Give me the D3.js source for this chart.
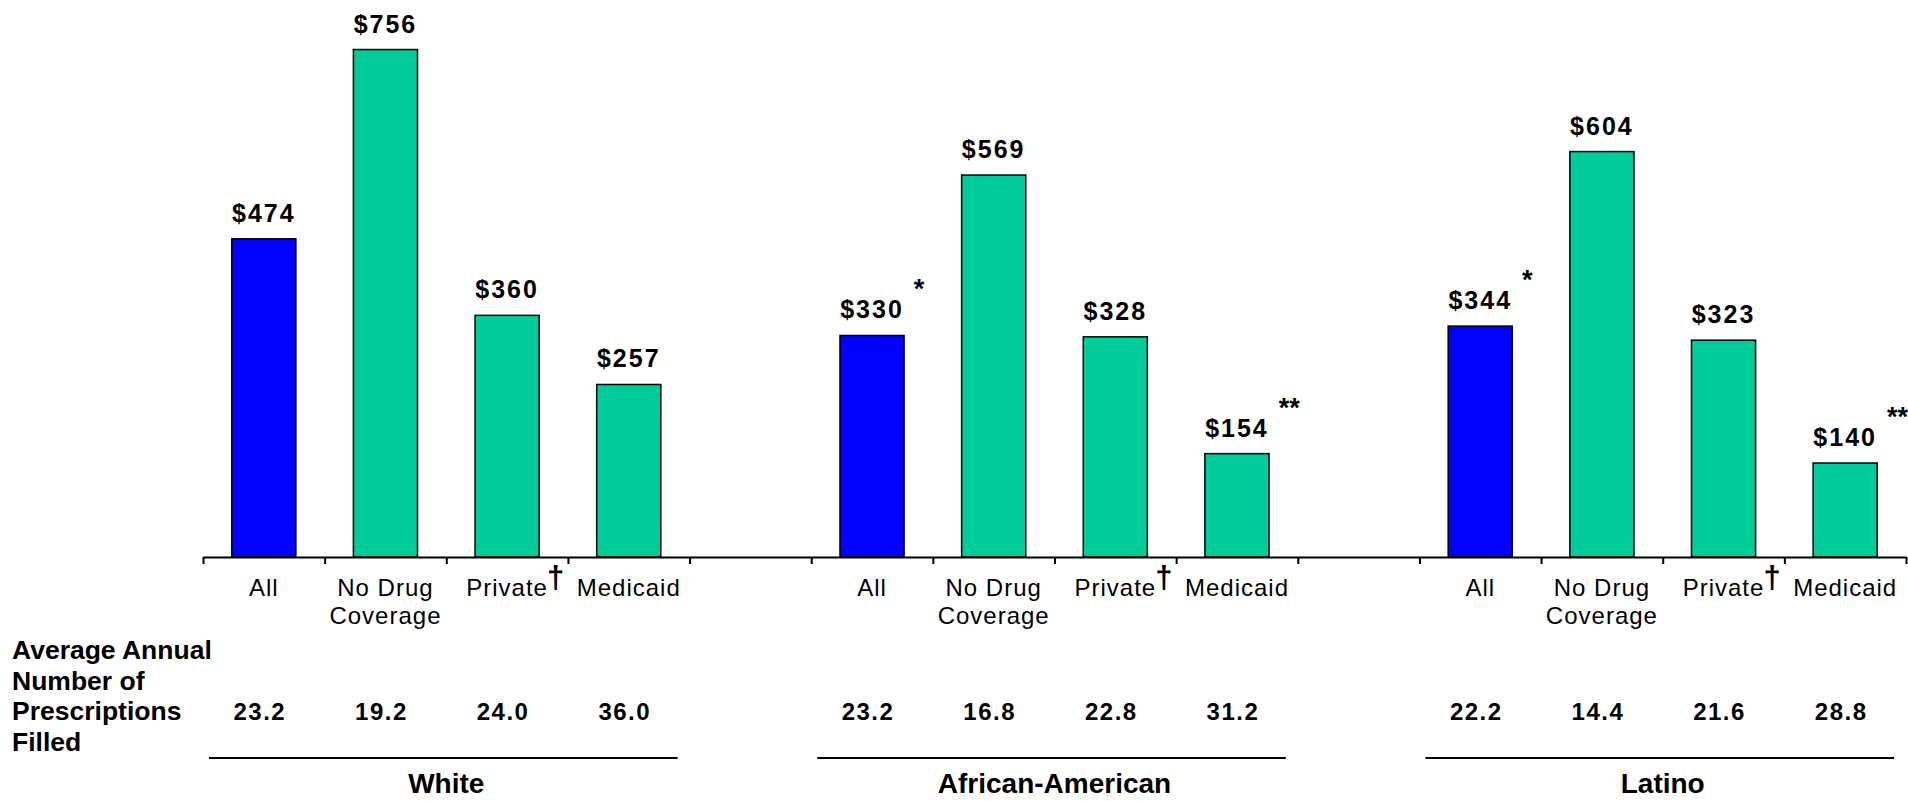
<!DOCTYPE html>
<html>
<head>
<meta charset="utf-8">
<script src="https://cdn.jsdelivr.net/npm/d3@7"></script>
<style>
  html, body { margin: 0; padding: 0; background: #fff; }
  svg { display: block; font-family: "Liberation Sans", Arial, sans-serif; }
</style>
</head>
<body>
<svg id="chart" width="1908" height="801"></svg>
<script>
// ---- data ----
const groups = ["White", "African-American", "Latino"];
const categories = ["All", "No Drug Coverage", "Private", "Medicaid"];
const categoryLines = [["All"], ["No Drug", "Coverage"], ["Private"], ["Medicaid"]];
const categoryNotes = ["", "", "\u2020", ""];
const whiteSpend = [474, 756, 360, 257];
const africanAmericanSpend = [330, 569, 328, 154];
const latinoSpend = [344, 604, 323, 140];
const whiteRx = [23.2, 19.2, 24.0, 36.0];
const africanAmericanRx = [23.2, 16.8, 22.8, 31.2];
const latinoRx = [22.2, 14.4, 21.6, 28.8];
const whiteMarks = ["", "", "", ""];
const africanAmericanMarks = ["*", "", "", "**"];
const latinoMarks = ["*", "", "", "**"];
const rowLabelLines = ["Average Annual", "Number of", "Prescriptions", "Filled"];
const yMax = 800;

const spendByGroup = [whiteSpend, africanAmericanSpend, latinoSpend];
const rxByGroup = [whiteRx, africanAmericanRx, latinoRx];
const marksByGroup = [whiteMarks, africanAmericanMarks, latinoMarks];

// build slot list: 4 categories per group, with one empty slot between groups
const slots = [];
const records = [];
groups.forEach((g, gi) => {
  categories.forEach((c, ci) => {
    const key = gi + "-" + ci;
    slots.push(key);
    records.push({ key, gi, ci, group: g, category: c,
      value: spendByGroup[gi][ci], rx: rxByGroup[gi][ci], mark: marksByGroup[gi][ci] });
  });
  if (gi < groups.length - 1) slots.push("gap" + gi);
});

// ---- layout ----
const svg = d3.select("#chart");
const baseY = 557;
const x = d3.scaleBand().domain(slots).range([203, 1906]).paddingInner(0).paddingOuter(0);
const y = d3.scaleLinear().domain([0, yMax]).range([baseY, 20]);
const barW = x.bandwidth() * 0.527;
const cx = d => x(d.key) + x.bandwidth() / 2;
const colorBlue = "#0000FF", colorTeal = "#00CC99";

// bars
svg.append("g").selectAll("rect").data(records).join("rect")
  .attr("x", d => cx(d) - barW / 2)
  .attr("y", d => y(d.value))
  .attr("width", barW)
  .attr("height", d => baseY - y(d.value))
  .attr("fill", d => d.ci === 0 ? colorBlue : colorTeal)
  .attr("stroke", "#000")
  .attr("stroke-width", 1.5);

// axis with ticks at slot boundaries
const bx = d3.scaleLinear().domain([0, slots.length]).range(x.range());
const axis = svg.append("g").attr("transform", `translate(0,${baseY})`)
  .call(d3.axisBottom(bx).ticks(slots.length).tickFormat("").tickSizeInner(7).tickSizeOuter(0));
axis.select(".domain").attr("stroke", "#000").attr("stroke-width", 2);
axis.selectAll(".tick line").attr("stroke", "#000").attr("stroke-width", 2);

// value labels
const valueLabels = svg.append("g").selectAll("text").data(records).join("text")
  .attr("x", d => cx(d))
  .attr("y", d => y(d.value) - 17)
  .attr("text-anchor", "middle")
  .attr("font-size", 25)
  .attr("font-weight", "bold")
  .attr("letter-spacing", 2)
  .attr("fill", "#000")
  .text(d => "$" + d.value);

// significance marks
valueLabels.each(function (d) {
  if (!d.mark) return;
  const w = this.getComputedTextLength();
  svg.append("text")
    .attr("x", cx(d) + w / 2 + 10)
    .attr("y", y(d.value) - 17 - 20)
    .attr("font-size", 27)
    .attr("font-weight", "bold")
    .attr("fill", "#000")
    .text(d.mark);
});

// category labels
const catG = svg.append("g");
records.forEach(d => {
  const lines = categoryLines[d.ci];
  const t = catG.append("text")
    .attr("text-anchor", "middle")
    .attr("font-size", 24)
    .attr("letter-spacing", 1)
    .attr("fill", "#000");
  lines.forEach((ln, i) => {
    t.append("tspan").attr("x", cx(d)).attr("y", 596 + i * 28).text(ln);
  });
  const note = categoryNotes[d.ci];
  if (note) {
    const w = t.node().getComputedTextLength();
    catG.append("text")
      .attr("x", cx(d) + w / 2 - 1)
      .attr("y", 588)
      .attr("font-size", 31)
      .attr("font-weight", "bold")
      .attr("fill", "#000")
      .text(note);
  }
});

// row label
const rowT = svg.append("text").attr("font-size", 26.5).attr("font-weight", "bold").attr("fill", "#000");
rowLabelLines.forEach((ln, i) => {
  rowT.append("tspan").attr("x", 12).attr("y", 659 + i * 30.5).text(ln);
});

// prescriptions numbers
svg.append("g").selectAll("text").data(records).join("text")
  .attr("x", d => cx(d) - 4)
  .attr("y", 720)
  .attr("text-anchor", "middle")
  .attr("font-size", 24)
  .attr("font-weight", "bold")
  .attr("letter-spacing", 1.5)
  .attr("fill", "#000")
  .text(d => d.rx.toFixed(1));

// group underlines and titles
groups.forEach((g, gi) => {
  const x0 = x(gi + "-0");
  const x1 = x(gi + "-" + (categories.length - 1)) + x.bandwidth();
  svg.append("line")
    .attr("x1", x0 + 6).attr("x2", x1 - 12)
    .attr("y1", 758).attr("y2", 758)
    .attr("stroke", "#000").attr("stroke-width", 2);
  svg.append("text")
    .attr("x", (x0 + x1) / 2)
    .attr("y", 793)
    .attr("text-anchor", "middle")
    .attr("font-size", 28)
    .attr("font-weight", "bold")
    .attr("fill", "#000")
    .text(g);
});
</script>
</body>
</html>
